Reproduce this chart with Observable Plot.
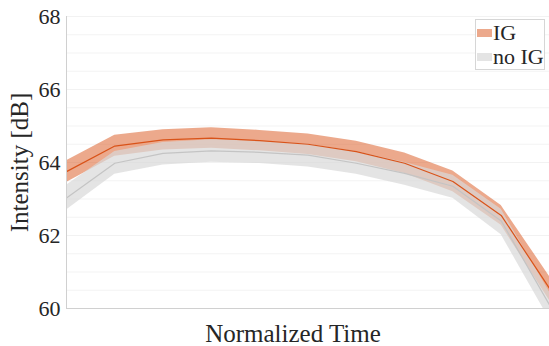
<!DOCTYPE html>
<html>
<head>
<meta charset="utf-8">
<script src="https://cdn.jsdelivr.net/npm/d3@7"></script>
<script src="https://cdn.jsdelivr.net/npm/@observablehq/plot@0.6"></script>
<style>
  html, body { margin: 0; padding: 0; background: #fff; }
  #wrap { position: relative; width: 549px; height: 346px; overflow: hidden; font-family: "Liberation Serif", "Times New Roman", serif; }
  #legend { position: absolute; left: 475px; top: 19px; width: 70px; height: 51px; border: 1px solid #d6d6d6; background: #fff;
    font-family: "Liberation Serif", "Times New Roman", serif; font-size: 22px; color: #262626; box-sizing: border-box; }
  .row { position: absolute; left: 1px; display: flex; align-items: center; white-space: nowrap; }
  .sw { width: 15px; height: 8px; margin-right: 1px; }
</style>
</head>
<body>
<div id="wrap"></div>
<script>
const timeIdx = [0, 1, 2, 3, 4, 5, 6, 7, 8, 9, 10];
const igMean = [63.75, 64.45, 64.62, 64.67, 64.6, 64.5, 64.3, 63.98, 63.48, 62.55, 60.55];
const igHigh = [64.05, 64.75, 64.9, 64.95, 64.88, 64.78, 64.58, 64.26, 63.77, 62.82, 60.88];
const igLow = [63.45, 64.17, 64.34, 64.39, 64.32, 64.22, 64.02, 63.70, 63.2, 62.28, 60.22];
const noIgMean = [63.03, 63.98, 64.25, 64.32, 64.28, 64.2, 63.98, 63.7, 63.35, 62.4, 60.1];
const noIgHigh = [63.38, 64.3, 64.55, 64.62, 64.58, 64.5, 64.3, 64.0, 63.65, 62.72, 60.45];
const noIgLow = [62.7, 63.68, 63.93, 64.01, 63.97, 63.88, 63.68, 63.38, 63.02, 62.02, 59.7];
const yTicks = [60, 62, 64, 66, 68];
const seriesNames = ["IG", "no IG"];

const ig = timeIdx.map((t, i) => ({t, m: igMean[i], lo: igLow[i], hi: igHigh[i]}));
const noIg = timeIdx.map((t, i) => ({t, m: noIgMean[i], lo: noIgLow[i], hi: noIgHigh[i]}));

const serif = "Liberation Serif";
const orange = "#d95319";
const chart = Plot.plot({
  width: 549,
  height: 346,
  marginLeft: 66,
  marginRight: 0,
  marginTop: 16,
  marginBottom: 38,
  style: {color: "#262626", background: "#fff"},
  x: {domain: [0, 10], axis: null},
  y: {domain: [60, 68]},
  marks: [
    Plot.gridY(d3.range(60, 68.01, 0.5), {stroke: "#000", strokeOpacity: 0.05}),
    Plot.areaY(ig, {x: "t", y1: "lo", y2: "hi", fill: orange, fillOpacity: 0.5, clip: true}),
    Plot.areaY(noIg, {x: "t", y1: "lo", y2: "hi", fill: "#d9d9d9", fillOpacity: 0.7, clip: true}),
    Plot.lineY(noIg, {x: "t", y: "m", stroke: "#c4c4c4", strokeWidth: 1.2, clip: true}),
    Plot.lineY(ig, {x: "t", y: "m", stroke: orange, strokeWidth: 1.2, clip: true}),
    Plot.ruleX([0], {stroke: "#d0d0d0"}),
    Plot.ruleY([60], {stroke: "#d0d0d0"}),
    Plot.axisY({ticks: yTicks, tickSize: 0, tickPadding: 6, fontSize: 22, fontFamily: serif, label: "Intensity [dB]", labelAnchor: "center", labelArrow: "none", labelOffset: 56}),
    Plot.axisX({ticks: [], label: "Normalized Time", labelAnchor: "center", labelArrow: "none", labelOffset: 33, fontSize: 25, fontFamily: serif})
  ]
});
chart.querySelectorAll("text, g").forEach(el => {
  el.setAttribute("font-family", serif);
  el.style.setProperty("font-family", "'Liberation Serif', 'Times New Roman', serif", "important");
});
chart.querySelectorAll("[aria-label='y-axis label'], [aria-label='x-axis label']").forEach(g => g.setAttribute("font-size", "25"));
const xl = chart.querySelector("[aria-label='x-axis label']");
if (xl) xl.setAttribute("transform", ((xl.getAttribute("transform") || "") + " translate(-15,0)").trim());
document.getElementById("wrap").appendChild(chart);

const legend = document.createElement("div");
legend.id = "legend";
const colors = [ "rgba(217,83,25,0.5)", "#e4e4e4" ];
seriesNames.forEach((name, i) => {
  const row = document.createElement("div");
  row.className = "row";
  row.style.top = (i === 0 ? 0 : 24) + "px";
  const sw = document.createElement("span");
  sw.className = "sw";
  sw.style.background = colors[i];
  const tx = document.createElement("span");
  tx.textContent = name;
  row.appendChild(sw); row.appendChild(tx);
  legend.appendChild(row);
});
document.getElementById("wrap").appendChild(legend);
</script>
</body>
</html>
